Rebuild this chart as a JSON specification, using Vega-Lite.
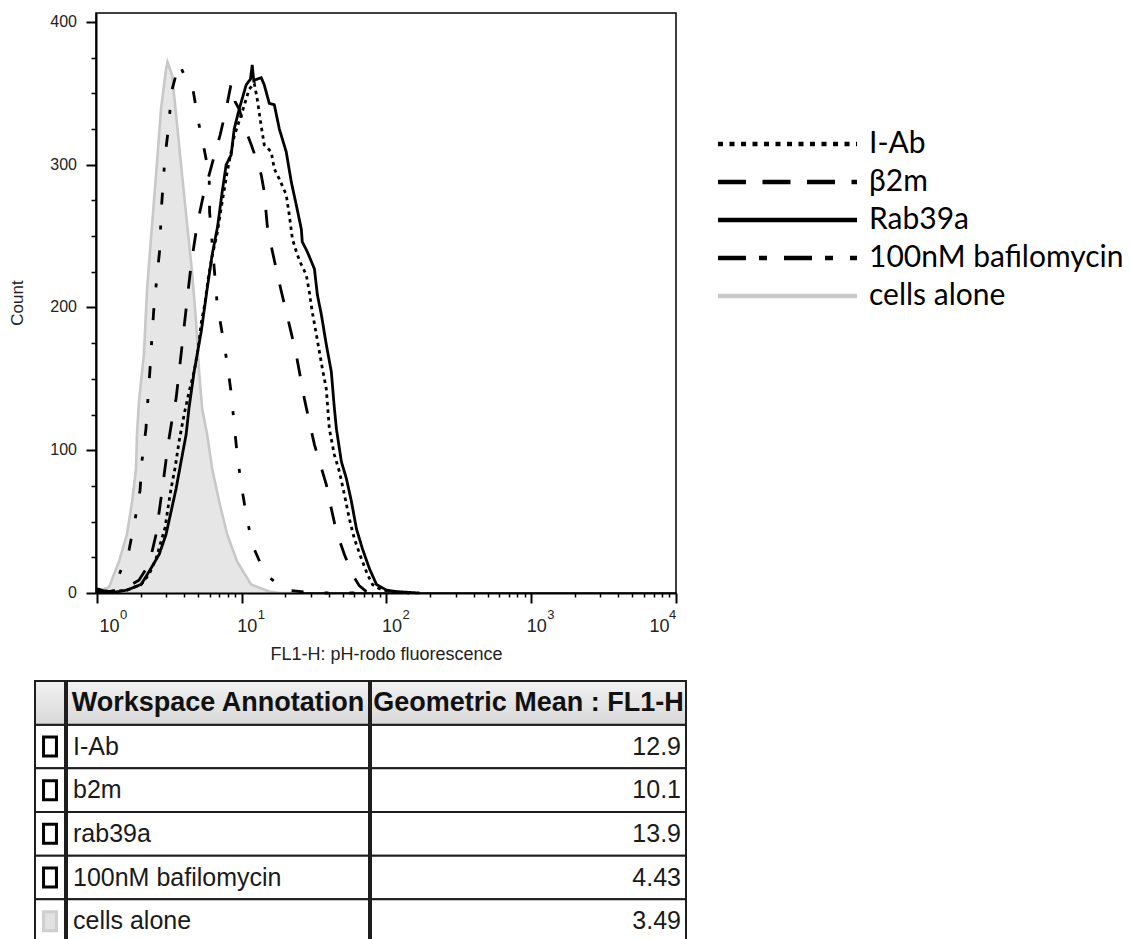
{
  "$schema": "https://vega.github.io/schema/vega-lite/v6.json",
  "padding": {"left": 4, "top": 12, "right": 0, "bottom": 0},
  "background": "white",
  "config": {"view": {"stroke": null}, "font": "Liberation Sans"},
  "datasets": {
    "hist": [
      {"series": "cells alone", "fl1h": 1.0, "count": 1}, {"series": "cells alone", "fl1h": 1.21, "count": 4}, {"series": "cells alone", "fl1h": 1.42, "count": 22}, {"series": "cells alone", "fl1h": 1.61, "count": 41}, {"series": "cells alone", "fl1h": 1.75, "count": 64}, {"series": "cells alone", "fl1h": 1.86, "count": 87}, {"series": "cells alone", "fl1h": 1.89, "count": 111}, {"series": "cells alone", "fl1h": 1.95, "count": 134}, {"series": "cells alone", "fl1h": 2.11, "count": 167}, {"series": "cells alone", "fl1h": 2.22, "count": 213}, {"series": "cells alone", "fl1h": 2.36, "count": 248}, {"series": "cells alone", "fl1h": 2.56, "count": 293}, {"series": "cells alone", "fl1h": 2.77, "count": 339}, {"series": "cells alone", "fl1h": 3.0, "count": 367}, {"series": "cells alone", "fl1h": 3.07, "count": 372}, {"series": "cells alone", "fl1h": 3.3, "count": 363}, {"series": "cells alone", "fl1h": 3.58, "count": 328}, {"series": "cells alone", "fl1h": 3.87, "count": 293}, {"series": "cells alone", "fl1h": 4.2, "count": 258}, {"series": "cells alone", "fl1h": 4.54, "count": 225}, {"series": "cells alone", "fl1h": 4.84, "count": 190}, {"series": "cells alone", "fl1h": 5.08, "count": 155}, {"series": "cells alone", "fl1h": 5.33, "count": 129}, {"series": "cells alone", "fl1h": 5.77, "count": 111}, {"series": "cells alone", "fl1h": 6.25, "count": 87}, {"series": "cells alone", "fl1h": 6.99, "count": 64}, {"series": "cells alone", "fl1h": 7.94, "count": 41}, {"series": "cells alone", "fl1h": 9.31, "count": 22}, {"series": "cells alone", "fl1h": 11.6, "count": 6}, {"series": "cells alone", "fl1h": 15.5, "count": 1}, {"series": "cells alone", "fl1h": 18.2, "count": 0}, {"series": "cells alone", "fl1h": 25, "count": 0},

      {"series": "100nM bafilomycin", "fl1h": 1.0, "count": 2}, {"series": "100nM bafilomycin", "fl1h": 1.1, "count": 1}, {"series": "100nM bafilomycin", "fl1h": 1.21, "count": 1}, {"series": "100nM bafilomycin", "fl1h": 1.375, "count": 9}, {"series": "100nM bafilomycin", "fl1h": 1.665, "count": 30}, {"series": "100nM bafilomycin", "fl1h": 1.83, "count": 51}, {"series": "100nM bafilomycin", "fl1h": 1.985, "count": 72}, {"series": "100nM bafilomycin", "fl1h": 2.05, "count": 93}, {"series": "100nM bafilomycin", "fl1h": 2.18, "count": 115}, {"series": "100nM bafilomycin", "fl1h": 2.25, "count": 136}, {"series": "100nM bafilomycin", "fl1h": 2.33, "count": 158}, {"series": "100nM bafilomycin", "fl1h": 2.4, "count": 180}, {"series": "100nM bafilomycin", "fl1h": 2.48, "count": 201}, {"series": "100nM bafilomycin", "fl1h": 2.6, "count": 222}, {"series": "100nM bafilomycin", "fl1h": 2.73, "count": 243}, {"series": "100nM bafilomycin", "fl1h": 2.77, "count": 265}, {"series": "100nM bafilomycin", "fl1h": 2.86, "count": 286}, {"series": "100nM bafilomycin", "fl1h": 2.96, "count": 307}, {"series": "100nM bafilomycin", "fl1h": 3.15, "count": 329}, {"series": "100nM bafilomycin", "fl1h": 3.25, "count": 350}, {"series": "100nM bafilomycin", "fl1h": 3.69, "count": 371}, {"series": "100nM bafilomycin", "fl1h": 4.13, "count": 360}, {"series": "100nM bafilomycin", "fl1h": 4.62, "count": 352}, {"series": "100nM bafilomycin", "fl1h": 5.0, "count": 331}, {"series": "100nM bafilomycin", "fl1h": 5.5, "count": 311}, {"series": "100nM bafilomycin", "fl1h": 5.96, "count": 293}, {"series": "100nM bafilomycin", "fl1h": 6.0, "count": 267}, {"series": "100nM bafilomycin", "fl1h": 6.76, "count": 203}, {"series": "100nM bafilomycin", "fl1h": 7.33, "count": 182}, {"series": "100nM bafilomycin", "fl1h": 7.94, "count": 161}, {"series": "100nM bafilomycin", "fl1h": 8.46, "count": 140}, {"series": "100nM bafilomycin", "fl1h": 8.87, "count": 118}, {"series": "100nM bafilomycin", "fl1h": 9.31, "count": 97}, {"series": "100nM bafilomycin", "fl1h": 9.92, "count": 76}, {"series": "100nM bafilomycin", "fl1h": 10.74, "count": 55}, {"series": "100nM bafilomycin", "fl1h": 11.82, "count": 34}, {"series": "100nM bafilomycin", "fl1h": 14.54, "count": 13}, {"series": "100nM bafilomycin", "fl1h": 20.3, "count": 2}, {"series": "100nM bafilomycin", "fl1h": 32.8, "count": 0}, {"series": "100nM bafilomycin", "fl1h": 60, "count": 0},

      {"series": "β2m", "fl1h": 1.0, "count": 1}, {"series": "β2m", "fl1h": 1.21, "count": 1}, {"series": "β2m", "fl1h": 1.54, "count": 3}, {"series": "β2m", "fl1h": 1.95, "count": 9}, {"series": "β2m", "fl1h": 2.29, "count": 20}, {"series": "β2m", "fl1h": 2.56, "count": 41}, {"series": "β2m", "fl1h": 2.82, "count": 72}, {"series": "β2m", "fl1h": 3.1, "count": 104}, {"series": "β2m", "fl1h": 3.41, "count": 130}, {"series": "β2m", "fl1h": 3.52, "count": 136}, {"series": "β2m", "fl1h": 3.81, "count": 167}, {"series": "β2m", "fl1h": 4.13, "count": 199}, {"series": "β2m", "fl1h": 4.47, "count": 230}, {"series": "β2m", "fl1h": 4.92, "count": 258}, {"series": "β2m", "fl1h": 5.42, "count": 278}, {"series": "β2m", "fl1h": 5.96, "count": 293}, {"series": "β2m", "fl1h": 6.45, "count": 306}, {"series": "β2m", "fl1h": 7.1, "count": 321}, {"series": "β2m", "fl1h": 7.81, "count": 339}, {"series": "β2m", "fl1h": 8.46, "count": 357}, {"series": "β2m", "fl1h": 9.02, "count": 344}, {"series": "β2m", "fl1h": 9.61, "count": 339}, {"series": "β2m", "fl1h": 10.41, "count": 327}, {"series": "β2m", "fl1h": 11.64, "count": 314}, {"series": "β2m", "fl1h": 12.8, "count": 302}, {"series": "β2m", "fl1h": 13.64, "count": 293}, {"series": "β2m", "fl1h": 14.31, "count": 281}, {"series": "β2m", "fl1h": 15.02, "count": 257}, {"series": "β2m", "fl1h": 16.0, "count": 243}, {"series": "β2m", "fl1h": 17.3, "count": 227}, {"series": "β2m", "fl1h": 18.8, "count": 211}, {"series": "β2m", "fl1h": 20.3, "count": 197}, {"series": "β2m", "fl1h": 22.0, "count": 182}, {"series": "β2m", "fl1h": 23.8, "count": 167}, {"series": "β2m", "fl1h": 27.1, "count": 136}, {"series": "β2m", "fl1h": 29.3, "count": 120}, {"series": "β2m", "fl1h": 31.8, "count": 104}, {"series": "β2m", "fl1h": 34.9, "count": 90}, {"series": "β2m", "fl1h": 38.4, "count": 76}, {"series": "β2m", "fl1h": 41.6, "count": 59}, {"series": "β2m", "fl1h": 45.1, "count": 43}, {"series": "β2m", "fl1h": 51.2, "count": 27}, {"series": "β2m", "fl1h": 58.2, "count": 13}, {"series": "β2m", "fl1h": 65.0, "count": 5}, {"series": "β2m", "fl1h": 72.7, "count": 1}, {"series": "β2m", "fl1h": 89.2, "count": 0},

      {"series": "Rab39a", "fl1h": 1.0, "count": 3}, {"series": "Rab39a", "fl1h": 1.15, "count": 1}, {"series": "Rab39a", "fl1h": 1.31, "count": 0.5}, {"series": "Rab39a", "fl1h": 1.61, "count": 2}, {"series": "Rab39a", "fl1h": 2.02, "count": 6}, {"series": "Rab39a", "fl1h": 2.29, "count": 15}, {"series": "Rab39a", "fl1h": 2.69, "count": 27}, {"series": "Rab39a", "fl1h": 3.0, "count": 41}, {"series": "Rab39a", "fl1h": 3.25, "count": 57}, {"series": "Rab39a", "fl1h": 3.52, "count": 73}, {"series": "Rab39a", "fl1h": 3.81, "count": 92}, {"series": "Rab39a", "fl1h": 4.13, "count": 111}, {"series": "Rab39a", "fl1h": 4.33, "count": 130}, {"series": "Rab39a", "fl1h": 4.69, "count": 155}, {"series": "Rab39a", "fl1h": 5.25, "count": 183}, {"series": "Rab39a", "fl1h": 5.77, "count": 213}, {"series": "Rab39a", "fl1h": 6.25, "count": 237}, {"series": "Rab39a", "fl1h": 6.82, "count": 257}, {"series": "Rab39a", "fl1h": 7.33, "count": 281}, {"series": "Rab39a", "fl1h": 7.81, "count": 300}, {"series": "Rab39a", "fl1h": 8.46, "count": 307}, {"series": "Rab39a", "fl1h": 8.87, "count": 325}, {"series": "Rab39a", "fl1h": 9.61, "count": 339}, {"series": "Rab39a", "fl1h": 10.74, "count": 356}, {"series": "Rab39a", "fl1h": 11.5, "count": 360}, {"series": "Rab39a", "fl1h": 11.82, "count": 370}, {"series": "Rab39a", "fl1h": 12.1, "count": 359}, {"series": "Rab39a", "fl1h": 12.8, "count": 360}, {"series": "Rab39a", "fl1h": 13.64, "count": 361}, {"series": "Rab39a", "fl1h": 14.31, "count": 356}, {"series": "Rab39a", "fl1h": 15.5, "count": 343}, {"series": "Rab39a", "fl1h": 16.8, "count": 342}, {"series": "Rab39a", "fl1h": 18.2, "count": 325}, {"series": "Rab39a", "fl1h": 20.3, "count": 309}, {"series": "Rab39a", "fl1h": 22.0, "count": 288}, {"series": "Rab39a", "fl1h": 23.8, "count": 272}, {"series": "Rab39a", "fl1h": 25.8, "count": 255}, {"series": "Rab39a", "fl1h": 26.2, "count": 246}, {"series": "Rab39a", "fl1h": 28.4, "count": 239}, {"series": "Rab39a", "fl1h": 31.8, "count": 227}, {"series": "Rab39a", "fl1h": 33.3, "count": 209}, {"series": "Rab39a", "fl1h": 35.5, "count": 195}, {"series": "Rab39a", "fl1h": 38.4, "count": 174}, {"series": "Rab39a", "fl1h": 41.6, "count": 155}, {"series": "Rab39a", "fl1h": 43.6, "count": 130}, {"series": "Rab39a", "fl1h": 45.1, "count": 115}, {"series": "Rab39a", "fl1h": 48.8, "count": 92}, {"series": "Rab39a", "fl1h": 52.9, "count": 80}, {"series": "Rab39a", "fl1h": 57.3, "count": 64}, {"series": "Rab39a", "fl1h": 62.0, "count": 45}, {"series": "Rab39a", "fl1h": 68.2, "count": 31}, {"series": "Rab39a", "fl1h": 76.3, "count": 17}, {"series": "Rab39a", "fl1h": 85.3, "count": 6}, {"series": "Rab39a", "fl1h": 100, "count": 2}, {"series": "Rab39a", "fl1h": 117, "count": 1}, {"series": "Rab39a", "fl1h": 169, "count": 0},

      {"series": "I-Ab", "fl1h": 1.0, "count": 2}, {"series": "I-Ab", "fl1h": 1.3, "count": 1}, {"series": "I-Ab", "fl1h": 1.61, "count": 2}, {"series": "I-Ab", "fl1h": 2.02, "count": 6}, {"series": "I-Ab", "fl1h": 2.29, "count": 13}, {"series": "I-Ab", "fl1h": 2.56, "count": 24}, {"series": "I-Ab", "fl1h": 2.77, "count": 36}, {"series": "I-Ab", "fl1h": 2.96, "count": 46}, {"series": "I-Ab", "fl1h": 3.1, "count": 60}, {"series": "I-Ab", "fl1h": 3.25, "count": 73}, {"series": "I-Ab", "fl1h": 3.47, "count": 88}, {"series": "I-Ab", "fl1h": 3.69, "count": 106}, {"series": "I-Ab", "fl1h": 4.0, "count": 125}, {"series": "I-Ab", "fl1h": 4.33, "count": 141}, {"series": "I-Ab", "fl1h": 4.69, "count": 155}, {"series": "I-Ab", "fl1h": 5.0, "count": 171}, {"series": "I-Ab", "fl1h": 5.25, "count": 189}, {"series": "I-Ab", "fl1h": 5.59, "count": 204}, {"series": "I-Ab", "fl1h": 5.86, "count": 220}, {"series": "I-Ab", "fl1h": 6.25, "count": 236}, {"series": "I-Ab", "fl1h": 6.77, "count": 252}, {"series": "I-Ab", "fl1h": 7.33, "count": 274}, {"series": "I-Ab", "fl1h": 7.94, "count": 295}, {"series": "I-Ab", "fl1h": 8.87, "count": 320}, {"series": "I-Ab", "fl1h": 10.08, "count": 337}, {"series": "I-Ab", "fl1h": 11.27, "count": 353}, {"series": "I-Ab", "fl1h": 12.21, "count": 357}, {"series": "I-Ab", "fl1h": 12.8, "count": 346}, {"series": "I-Ab", "fl1h": 13.64, "count": 327}, {"series": "I-Ab", "fl1h": 14.31, "count": 314}, {"series": "I-Ab", "fl1h": 16.0, "count": 309}, {"series": "I-Ab", "fl1h": 16.8, "count": 297}, {"series": "I-Ab", "fl1h": 18.2, "count": 290}, {"series": "I-Ab", "fl1h": 20.3, "count": 279}, {"series": "I-Ab", "fl1h": 21.3, "count": 265}, {"series": "I-Ab", "fl1h": 22.4, "count": 248}, {"series": "I-Ab", "fl1h": 24.2, "count": 237}, {"series": "I-Ab", "fl1h": 25.8, "count": 230}, {"series": "I-Ab", "fl1h": 27.9, "count": 223}, {"series": "I-Ab", "fl1h": 29.3, "count": 211}, {"series": "I-Ab", "fl1h": 30.7, "count": 197}, {"series": "I-Ab", "fl1h": 32.8, "count": 181}, {"series": "I-Ab", "fl1h": 34.4, "count": 169}, {"series": "I-Ab", "fl1h": 36.1, "count": 157}, {"series": "I-Ab", "fl1h": 38.4, "count": 143}, {"series": "I-Ab", "fl1h": 40.3, "count": 115}, {"series": "I-Ab", "fl1h": 43.6, "count": 97}, {"series": "I-Ab", "fl1h": 47.3, "count": 85}, {"series": "I-Ab", "fl1h": 51.2, "count": 69}, {"series": "I-Ab", "fl1h": 55.4, "count": 52}, {"series": "I-Ab", "fl1h": 60.0, "count": 38}, {"series": "I-Ab", "fl1h": 67.1, "count": 24}, {"series": "I-Ab", "fl1h": 73.9, "count": 13}, {"series": "I-Ab", "fl1h": 80.0, "count": 6}, {"series": "I-Ab", "fl1h": 89.4, "count": 3}, {"series": "I-Ab", "fl1h": 105, "count": 1}, {"series": "I-Ab", "fl1h": 144, "count": 0}
    ],
    "decades": [
      {"v": 1, "e": "0"}, {"v": 10, "e": "1"}, {"v": 100, "e": "2"}, {"v": 1000, "e": "3"}, {"v": 10000, "e": "4"}
    ],
    "countTicks": [{"tick": 0}, {"tick": 100}, {"tick": 200}, {"tick": 300}, {"tick": 400}],
    "yTitle": [{"title": "Count"}],
    "legendItems": [
      {"series": "I-Ab"}, {"series": "β2m"}, {"series": "Rab39a"}, {"series": "100nM bafilomycin"}, {"series": "cells alone"}
    ],
    "table": [
      {"part": "header", "annotation": "Workspace Annotation", "mean": "Geometric Mean : FL1-H"},
      {"part": "body", "annotation": "I-Ab", "mean": "12.9"},
      {"part": "body", "annotation": "b2m", "mean": "10.1"},
      {"part": "body", "annotation": "rab39a", "mean": "13.9"},
      {"part": "body", "annotation": "100nM bafilomycin", "mean": "4.43"},
      {"part": "body", "annotation": "cells alone", "mean": "3.49"}
    ]
  },
  "spacing": 16,
  "vconcat": [
    {
      "spacing": 0,
      "resolve": {"scale": {"strokeDash": "independent", "color": "independent"}},
      "hconcat": [
        {
          "width": 79.5,
          "height": 580,
          "layer": [
            {
              "data": {"name": "countTicks"},
              "mark": {"type": "text", "align": "right", "baseline": "middle", "dx": -6.5, "fontSize": 16, "color": "#222"},
              "encoding": {
                "x": {"datum": 1, "type": "quantitative", "scale": {"domain": [0, 1]}, "axis": null},
                "y": {"field": "tick", "type": "quantitative", "scale": {"domain": [0, 406.3], "nice": false, "zero": false}, "axis": null},
                "text": {"field": "tick", "type": "quantitative"}
              }
            },
            {
              "data": {"name": "yTitle"},
              "mark": {"type": "text", "align": "center", "baseline": "middle", "angle": 270, "dy": 13.5, "fontSize": 17, "color": "#222"},
              "encoding": {
                "x": {"datum": 0, "type": "quantitative", "scale": {"domain": [0, 1]}, "axis": null},
                "text": {"field": "title"}
              }
            }
          ]
        },
        {
          "spacing": 37,
          "resolve": {"scale": {"strokeDash": "independent", "color": "independent"}},
          "hconcat": [
            {
              "width": 580,
              "height": 580,
              "view": {"stroke": "black", "strokeWidth": 1.5},
              "data": {"name": "hist"},
              "resolve": {"axis": {"x": "independent", "y": "independent"}},
              "layer": [
                {
                  "transform": [{"filter": "datum.series === 'cells alone'"}],
                  "mark": {"type": "area", "fill": "#e6e6e6", "opacity": 1},
                  "encoding": {
                    "x": {"field": "fl1h", "type": "quantitative", "scale": {"type": "log", "domain": [0.985, 10000], "nice": false},
                      "axis": {"values": [1, 10, 100, 1000, 10000], "labelExpr": "'10'", "labelFontSize": 18, "labelColor": "#222",
                        "labelAlign": "left", "labelOffset": {"condition": [{"test": "datum.value <= 1", "value": 2}, {"test": "datum.value >= 10000", "value": -27}], "value": -5},
                        "labelFlush": false, "labelOverlap": false, "labelPadding": 14, "tickSize": 10, "tickWidth": 2, "tickColor": "black",
                        "domainColor": "black", "domainWidth": 2, "grid": false, "zindex": 1,
                        "title": "FL1-H: pH-rodo fluorescence", "titleFontSize": 18, "titleFontWeight": "normal", "titleColor": "#222", "titlePadding": 10}},
                    "y": {"field": "count", "type": "quantitative", "scale": {"domain": [0, 406.3], "nice": false, "zero": false},
                      "axis": {"values": [0, 100, 200, 300, 400], "labels": false, "tickSize": 10, "tickWidth": 2, "tickColor": "black",
                        "domainColor": "black", "domainWidth": 2, "grid": false, "zindex": 1, "title": null}}
                  }
                },
                {
                  "transform": [{"filter": "datum.series === 'cells alone'"}],
                  "mark": {"type": "line", "stroke": "#c8c8c8", "strokeWidth": 2.6},
                  "encoding": {
                    "x": {"field": "fl1h", "type": "quantitative", "scale": {"type": "log", "domain": [0.985, 10000], "nice": false},
                      "axis": {"orient": "bottom", "values": [2, 3, 4, 5, 6, 7, 8, 9, 20, 30, 40, 50, 60, 70, 80, 90, 200, 300, 400, 500, 600, 700, 800, 900, 2000, 3000, 4000, 5000, 6000, 7000, 8000, 9000],
                        "labels": false, "domain": false, "tickSize": 4, "tickWidth": 1.5, "tickColor": "black", "grid": false, "title": null, "zindex": 1}},
                    "y": {"field": "count", "type": "quantitative", "scale": {"domain": [0, 406.3], "nice": false, "zero": false},
                      "axis": {"orient": "left", "values": [25, 50, 75, 125, 150, 175, 225, 250, 275, 325, 350, 375],
                        "labels": false, "domain": false, "tickSize": 5, "tickWidth": 1.5, "tickColor": "black", "grid": false, "title": null, "zindex": 1}}
                  }
                },
                {
                  "transform": [{"filter": "datum.series !== 'cells alone'"}],
                  "mark": {"type": "line", "color": "black", "strokeWidth": 2.8, "strokeCap": "butt"},
                  "encoding": {
                    "x": {"field": "fl1h", "type": "quantitative", "scale": {"type": "log", "domain": [0.985, 10000], "nice": false}, "axis": null},
                    "y": {"field": "count", "type": "quantitative", "scale": {"domain": [0, 406.3], "nice": false, "zero": false}, "axis": null},
                    "strokeDash": {"field": "series", "type": "nominal",
                      "scale": {"domain": ["I-Ab", "β2m", "Rab39a", "100nM bafilomycin"], "range": [[3.5, 4], [18, 20], [1, 0], [12, 21, 4, 21]]}, "legend": null}
                  }
                },
                {
                  "data": {"name": "decades"},
                  "transform": [{"filter": "datum.v <= 1"}],
                  "mark": {"type": "text", "align": "left", "baseline": "alphabetic", "dx": 23, "dy": 26, "fontSize": 13, "color": "#222"},
                  "encoding": {
                    "x": {"field": "v", "type": "quantitative", "scale": {"type": "log", "domain": [0.985, 10000], "nice": false}, "axis": null},
                    "y": {"datum": 0, "type": "quantitative", "scale": {"domain": [0, 406.3], "nice": false, "zero": false}, "axis": null},
                    "text": {"field": "e"}
                  }
                },
                {
                  "data": {"name": "decades"},
                  "transform": [{"filter": "datum.v > 1 && datum.v < 10000"}],
                  "mark": {"type": "text", "align": "left", "baseline": "alphabetic", "dx": 16, "dy": 26, "fontSize": 13, "color": "#222"},
                  "encoding": {
                    "x": {"field": "v", "type": "quantitative", "scale": {"type": "log", "domain": [0.985, 10000], "nice": false}, "axis": null},
                    "y": {"datum": 0, "type": "quantitative", "scale": {"domain": [0, 406.3], "nice": false, "zero": false}, "axis": null},
                    "text": {"field": "e"}
                  }
                },
                {
                  "data": {"name": "decades"},
                  "transform": [{"filter": "datum.v >= 10000"}],
                  "mark": {"type": "text", "align": "left", "baseline": "alphabetic", "dx": -7, "dy": 26, "fontSize": 13, "color": "#222"},
                  "encoding": {
                    "x": {"field": "v", "type": "quantitative", "scale": {"type": "log", "domain": [0.985, 10000], "nice": false}, "axis": null},
                    "y": {"datum": 0, "type": "quantitative", "scale": {"domain": [0, 406.3], "nice": false, "zero": false}, "axis": null},
                    "text": {"field": "e"}
                  }
                }
              ]
            },
            {
              "width": 139,
              "height": 580,
              "data": {"name": "legendItems"},
              "layer": [
                {
                  "mark": {"type": "rule", "strokeWidth": 4.5, "strokeCap": "butt"},
                  "encoding": {
                    "x": {"datum": 0, "type": "quantitative", "scale": {"domain": [0, 1]}, "axis": null},
                    "x2": {"datum": 1},
                    "y": {"field": "series", "type": "nominal", "scale": {"type": "point", "padding": 0, "domain": ["I-Ab", "β2m", "Rab39a", "100nM bafilomycin", "cells alone"], "range": [131, 283]}, "axis": null},
                    "strokeDash": {"field": "series", "type": "nominal",
                      "scale": {"domain": ["I-Ab", "β2m", "Rab39a", "100nM bafilomycin", "cells alone"], "range": [[5, 6.5], [28, 16.5], [1, 0], [28, 13, 8, 17], [1, 0]]}, "legend": null},
                    "color": {"field": "series", "type": "nominal",
                      "scale": {"domain": ["I-Ab", "β2m", "Rab39a", "100nM bafilomycin", "cells alone"], "range": ["black", "black", "black", "black", "#c8c8c8"]}, "legend": null}
                  }
                },
                {
                  "mark": {"type": "text", "align": "left", "baseline": "middle", "dx": 12, "font": "Lato", "fontSize": 30, "color": "black"},
                  "encoding": {
                    "x": {"datum": 1, "type": "quantitative", "scale": {"domain": [0, 1]}, "axis": null},
                    "y": {"field": "series", "type": "nominal", "scale": {"type": "point", "padding": 0, "domain": ["I-Ab", "β2m", "Rab39a", "100nM bafilomycin", "cells alone"], "range": [131, 283]}, "axis": null},
                    "text": {"field": "series"}
                  }
                }
              ]
            }
          ]
        }
      ]
    },
    {
      "spacing": 0,
      "hconcat": [
        {
          "width": 30,
          "height": 262,
          "data": {"name": "table"},
          "mark": {"type": "rect", "fill": "white"},
          "encoding": {
            "y": {"field": "annotation", "type": "nominal", "scale": {"domain": ["Workspace Annotation", "I-Ab", "b2m", "rab39a", "100nM bafilomycin", "cells alone"], "paddingInner": 0, "paddingOuter": 0}, "axis": null}
          }
        },
        {
          "width": 30,
          "height": 262,
          "data": {"name": "table"},
          "encoding": {
            "y": {"field": "annotation", "type": "nominal", "scale": {"domain": ["Workspace Annotation", "I-Ab", "b2m", "rab39a", "100nM bafilomycin", "cells alone"], "paddingInner": 0, "paddingOuter": 0}, "axis": null}
          },
          "layer": [
            {"mark": {"type": "rect", "fill": "white", "stroke": "#1e1e1e", "strokeWidth": 2}},
            {"transform": [{"filter": "datum.part === 'header'"}],
             "mark": {"type": "rect", "stroke": "#1e1e1e", "strokeWidth": 2,
               "fill": {"gradient": "linear", "x1": 0, "y1": 0, "x2": 0, "y2": 1, "stops": [{"offset": 0, "color": "#f2f2f2"}, {"offset": 1, "color": "#d8d8d8"}]}}},
            {"transform": [{"filter": "datum.part === 'body'"}],
             "mark": {"type": "point", "shape": "M-0.68,-1L0.68,-1L0.68,1L-0.68,1Z", "size": 361, "filled": true, "strokeWidth": 3, "opacity": 1},
             "encoding": {
               "fill": {"condition": {"test": "datum.annotation === 'cells alone'", "value": "#e2e2e2"}, "value": "white"},
               "stroke": {"condition": {"test": "datum.annotation === 'cells alone'", "value": "#cfcfcf"}, "value": "black"}
             }}
          ]
        },
        {
          "width": 302,
          "height": 262,
          "data": {"name": "table"},
          "encoding": {
            "y": {"field": "annotation", "type": "nominal", "scale": {"domain": ["Workspace Annotation", "I-Ab", "b2m", "rab39a", "100nM bafilomycin", "cells alone"], "paddingInner": 0, "paddingOuter": 0}, "axis": null}
          },
          "layer": [
            {"mark": {"type": "rect", "fill": "white", "stroke": "#1e1e1e", "strokeWidth": 2}},
            {"transform": [{"filter": "datum.part === 'header'"}],
             "mark": {"type": "rect", "stroke": "#1e1e1e", "strokeWidth": 2,
               "fill": {"gradient": "linear", "x1": 0, "y1": 0, "x2": 0, "y2": 1, "stops": [{"offset": 0, "color": "#f2f2f2"}, {"offset": 1, "color": "#d8d8d8"}]}}},
            {"transform": [{"filter": "datum.part === 'header'"}],
             "mark": {"type": "text", "align": "center", "baseline": "middle", "fontSize": 27, "fontWeight": "bold", "color": "#111"},
             "encoding": {"x": {"datum": 0.5, "type": "quantitative", "scale": {"domain": [0, 1]}, "axis": null}, "text": {"field": "annotation"}}},
            {"transform": [{"filter": "datum.part === 'body'"}],
             "mark": {"type": "text", "align": "left", "baseline": "middle", "dx": 6, "fontSize": 25, "color": "#1a1a1a"},
             "encoding": {"x": {"datum": 0, "type": "quantitative", "scale": {"domain": [0, 1]}, "axis": null}, "text": {"field": "annotation"}}}
          ]
        },
        {
          "width": 315,
          "height": 262,
          "data": {"name": "table"},
          "encoding": {
            "y": {"field": "annotation", "type": "nominal", "scale": {"domain": ["Workspace Annotation", "I-Ab", "b2m", "rab39a", "100nM bafilomycin", "cells alone"], "paddingInner": 0, "paddingOuter": 0}, "axis": null}
          },
          "layer": [
            {"mark": {"type": "rect", "fill": "white", "stroke": "#1e1e1e", "strokeWidth": 2}},
            {"transform": [{"filter": "datum.part === 'header'"}],
             "mark": {"type": "rect", "stroke": "#1e1e1e", "strokeWidth": 2,
               "fill": {"gradient": "linear", "x1": 0, "y1": 0, "x2": 0, "y2": 1, "stops": [{"offset": 0, "color": "#f2f2f2"}, {"offset": 1, "color": "#d8d8d8"}]}}},
            {"transform": [{"filter": "datum.part === 'header'"}],
             "mark": {"type": "text", "align": "center", "baseline": "middle", "fontSize": 27, "fontWeight": "bold", "color": "#111"},
             "encoding": {"x": {"datum": 0.5, "type": "quantitative", "scale": {"domain": [0, 1]}, "axis": null}, "text": {"field": "mean"}}},
            {"transform": [{"filter": "datum.part === 'body'"}],
             "mark": {"type": "text", "align": "right", "baseline": "middle", "dx": -5, "fontSize": 25, "color": "#1a1a1a"},
             "encoding": {"x": {"datum": 1, "type": "quantitative", "scale": {"domain": [0, 1]}, "axis": null}, "text": {"field": "mean"}}}
          ]
        }
      ]
    }
  ]
}
